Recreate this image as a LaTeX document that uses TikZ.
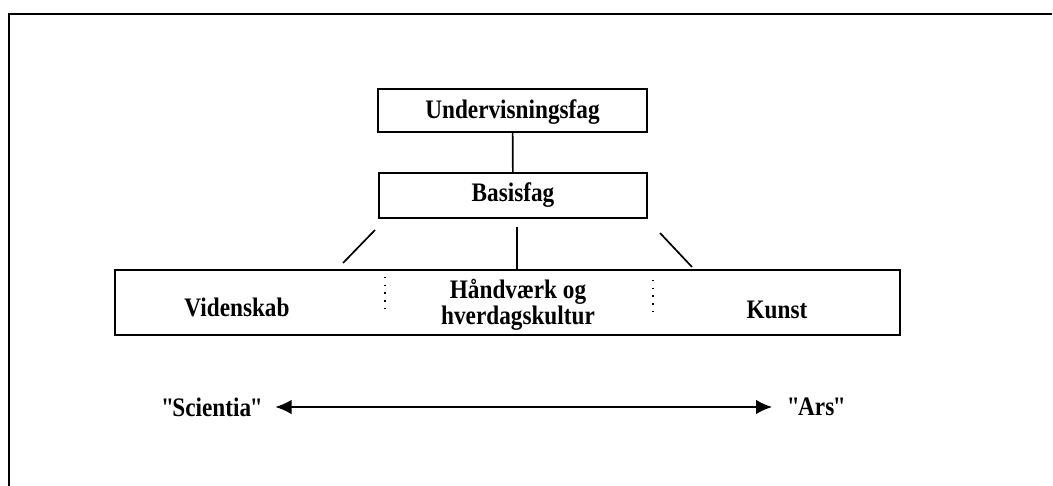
\documentclass[tikz,border=0pt]{standalone}
\usepackage{fontspec}
\setmainfont{Liberation Serif}[FakeStretch=0.87]
\usetikzlibrary{arrows.meta}

\newcommand{\anf}[1]{\textquotedbl\kern-2.5pt#1\kern-1pt\textquotedbl}

\begin{document}
\begin{tikzpicture}[x=0.025cm,y=-0.025cm,line width=1.2pt,
  fag/.style={draw,inner sep=0pt,font=\fontsize{19}{15.5}\bfseries\selectfont},
  ord/.style={inner sep=0pt,align=center,font=\fontsize{19}{15.5}\bfseries\selectfont},
  prik/.style={line width=1pt,dash pattern=on 1pt off 4.5pt},
  pil/.tip={Latex[length=0.4cm,width=0.36cm]}]
\useasboundingbox (0,0) rectangle (1053,486);
\draw (9,486) -- (9,14) -- (1052,14);

\node[fag,minimum width=6.725cm,minimum height=1.075cm,text depth=2pt] (underv) at (512.5,110.5) {Undervisningsfag};
\node[fag,minimum width=6.7cm,minimum height=1.125cm] (basis) at (513,195.5) {Basisfag};
\node[fag,minimum width=19.625cm,minimum height=1.625cm] (grund) at (507.5,302.5) {};
\draw (underv) -- (basis);

\coordinate (gl1) at (375,230);
\coordinate (gl2) at (343,263);
\coordinate (gm1) at (517,227);
\coordinate (gr1) at (660,233);
\coordinate (gr2) at (692,267);
\draw (gl1) -- (gl2);
\draw (gm1) -- (gm1 |- grund.north);
\draw (gr1) -- (gr2);

\coordinate (d1) at (385,277);
\coordinate (d2) at (653,280);
\draw[prik] (d1) -- ++(0,36);
\draw[prik] (d2) -- ++(0,37);

\node[ord] (viden) at (237,307) {Videnskab};
\node[ord] (haandv) at (518,305) {Håndværk og\\hverdagskultur};
\node[ord] (kunst) at (777,310) {Kunst};

\node[ord,anchor=east] (scientia) at (265.5,407) {\anf{Scientia}};
\node[ord,anchor=west] (ars) at (786,407) {\anf{Ars}};
\draw[line width=0.9pt,pil-pil,shorten <=0.25cm,shorten >=0.35cm] (scientia) -- (ars);

\end{tikzpicture}
\end{document}
